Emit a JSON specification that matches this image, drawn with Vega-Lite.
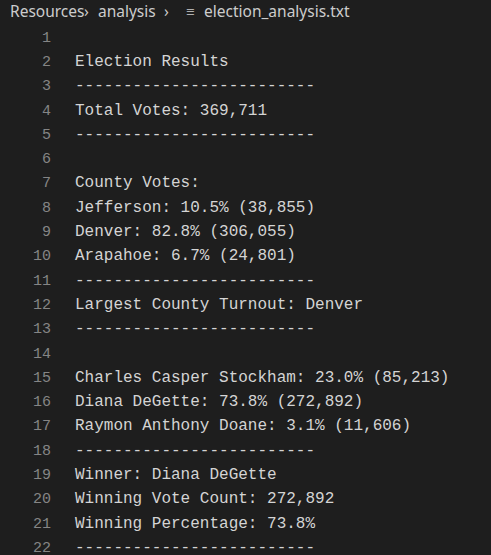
{
  "$schema": "https://vega.github.io/schema/vega-lite/v6.json",
  "width": 491,
  "height": 555,
  "autosize": {"type": "fit", "contains": "padding"},
  "padding": 0,
  "background": "#1e1e1e",
  "config": {"view": {"stroke": null}},
  "data": {"values": [
    {"line": 1, "text": ""},
    {"line": 2, "text": "Election Results"},
    {"line": 3, "text": "-------------------------"},
    {"line": 4, "text": "Total Votes: 369,711"},
    {"line": 5, "text": "-------------------------"},
    {"line": 6, "text": ""},
    {"line": 7, "text": "County Votes:"},
    {"line": 8, "text": "Jefferson: 10.5% (38,855)"},
    {"line": 9, "text": "Denver: 82.8% (306,055)"},
    {"line": 10, "text": "Arapahoe: 6.7% (24,801)"},
    {"line": 11, "text": "-------------------------"},
    {"line": 12, "text": "Largest County Turnout: Denver"},
    {"line": 13, "text": "-------------------------"},
    {"line": 14, "text": ""},
    {"line": 15, "text": "Charles Casper Stockham: 23.0% (85,213)"},
    {"line": 16, "text": "Diana DeGette: 73.8% (272,892)"},
    {"line": 17, "text": "Raymon Anthony Doane: 3.1% (11,606)"},
    {"line": 18, "text": "-------------------------"},
    {"line": 19, "text": "Winner: Diana DeGette"},
    {"line": 20, "text": "Winning Vote Count: 272,892"},
    {"line": 21, "text": "Winning Percentage: 73.8%"},
    {"line": 22, "text": "-------------------------"}
  ]},
  "encoding": {
    "y": {"field": "line", "type": "quantitative", "scale": {"domain": [-0.51, 22.33], "reverse": true, "nice": false, "zero": false}, "axis": null}
  },
  "layer": [
    {
      "mark": {"type": "text", "align": "right", "baseline": "middle", "font": "Liberation Mono", "fontSize": 15, "color": "#858585"},
      "encoding": {
        "x": {"datum": 51, "type": "quantitative", "scale": {"domain": [0, 491], "nice": false, "zero": true}, "axis": null},
        "text": {"field": "line"}
      }
    },
    {
      "mark": {"type": "text", "align": "left", "baseline": "middle", "font": "Liberation Mono", "fontSize": 16, "color": "#d4d4d4"},
      "encoding": {
        "x": {"datum": 75, "type": "quantitative"},
        "text": {"field": "text"}
      }
    },
    {
      "data": {"values": [
        {"line": -0.02, "x": 10, "label": "Resources"},
        {"line": -0.02, "x": 84, "label": "\u203a"},
        {"line": -0.02, "x": 98, "label": "analysis"},
        {"line": -0.02, "x": 164, "label": "\u203a"},
        {"line": -0.02, "x": 186, "label": "\u2261"},
        {"line": -0.02, "x": 204, "label": "election_analysis.txt"}
      ]},
      "mark": {"type": "text", "align": "left", "baseline": "middle", "font": "Noto Sans", "fontSize": 15.5, "color": "#cccccc"},
      "encoding": {
        "x": {"field": "x", "type": "quantitative"},
        "text": {"field": "label"}
      }
    }
  ]
}
